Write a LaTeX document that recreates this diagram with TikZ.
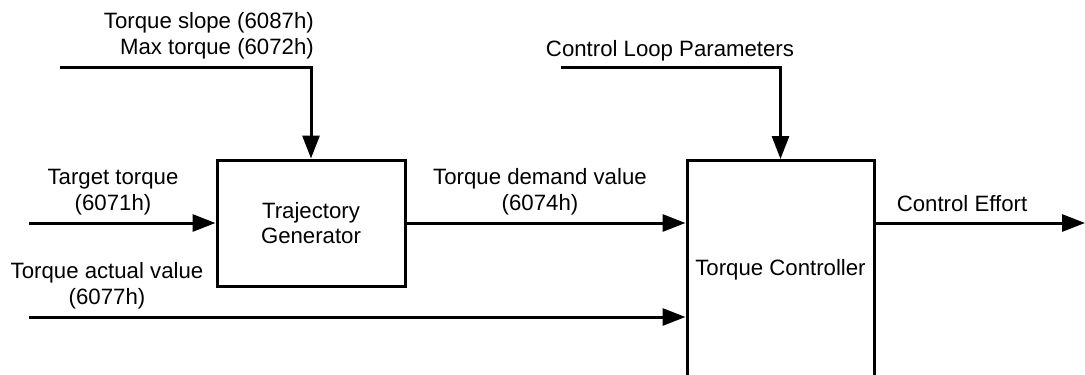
\documentclass[tikz,border=0pt]{standalone}
\usepackage{fontspec}
\setmainfont{Liberation Sans}
\usetikzlibrary{arrows.meta}
\begin{document}
\begin{tikzpicture}[x=1pt,y=-1pt,
  wire/.style={line width=3pt},
  flow/.style={wire,-{Triangle[length=23pt,width=17pt]}},
  block/.style={draw,line width=3pt,rectangle,align=center,inner sep=0pt},
  lbl/.style={inner sep=0pt,align=center,font=\fontsize{22.2}{25.5}\selectfont}
]
\useasboundingbox (0,0) rectangle (1085,375);
\clip (0,0) rectangle (1085,375);

% blocks
\node[block,lbl,minimum width=188pt,minimum height=126pt] (traj) at (311,223) {Trajectory\\Generator};
\node[block,lbl,minimum width=187pt,minimum height=219pt] (ctrl) at (780.5,270) {Torque Controller};

% free ends of the signal lines
\coordinate (limIn) at (60,67);
\coordinate (tgtIn) at (29,223);
\coordinate (actIn) at (29,317);
\coordinate (parIn) at (561,67);
\coordinate (effOut) at (1085,223);

% signals
\draw[flow] (limIn) -| (traj.north);
\draw[flow] (tgtIn) -- (traj.west);
\draw[flow] (traj.east) -- (traj.east -| ctrl.west);
\draw[flow] (actIn) -- (actIn -| ctrl.west);
\draw[flow] (parIn) -| (ctrl.north);
\draw[flow] (traj.east -| ctrl.east) -- (effOut);

% labels
\node[lbl,align=right,anchor=east] (limLbl) at (314,36) {Torque slope (6087h)\\Max torque (6072h)};
\node[lbl] (tgtLbl) at (113,192) {Target torque\\(6071h)};
\node[lbl] (actLbl) at (107,286) {Torque actual value\\(6077h)};
\node[lbl] (demLbl) at (540,192) {Torque demand value\\(6074h)};
\node[lbl] (parLbl) at (670,51) {Control Loop Parameters};
\node[lbl] (effLbl) at (962,204) {Control Effort};
\end{tikzpicture}
\end{document}
